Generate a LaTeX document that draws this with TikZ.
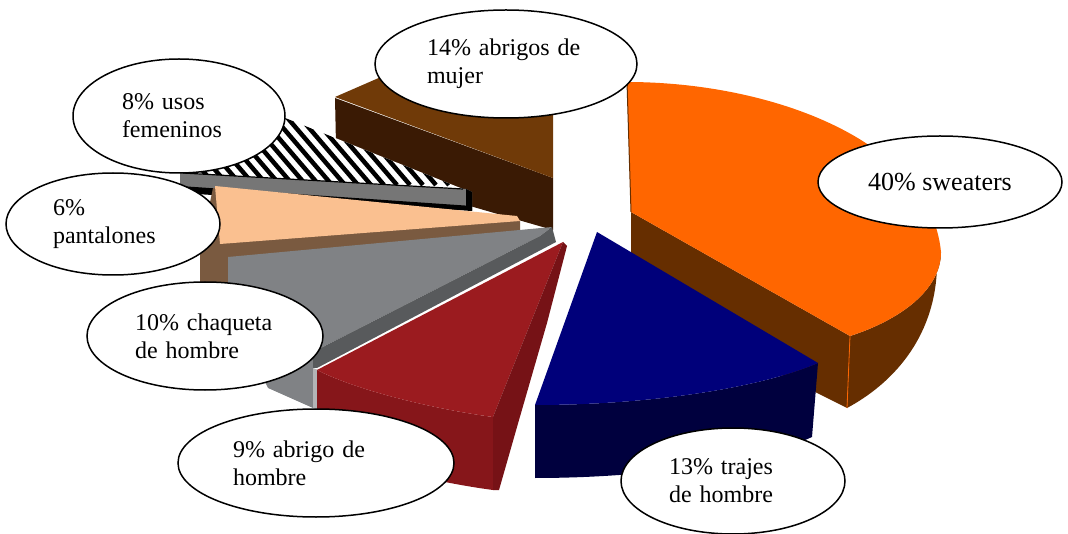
\documentclass[tikz,border=0pt]{standalone}
\usepackage{fontspec}
\setmainfont{Liberation Serif}
\usepackage{tikz}
\definecolor{orangetop}{RGB}{255,102,0}
\definecolor{orangeside}{RGB}{102,46,0}
\definecolor{navytop}{RGB}{0,0,122}
\definecolor{navyfront}{RGB}{0,0,62}
\definecolor{redtop}{RGB}{155,27,31}
\definecolor{redfront}{RGB}{134,22,26}
\definecolor{redside}{RGB}{118,18,22}
\definecolor{graytop}{RGB}{128,130,133}
\definecolor{grayside}{RGB}{88,90,92}
\definecolor{peach}{RGB}{250,192,144}
\definecolor{peachside}{RGB}{122,90,64}
\definecolor{bandgray}{RGB}{118,118,118}
\definecolor{browntop}{RGB}{112,58,8}
\definecolor{brownfront}{RGB}{58,26,4}
\usetikzlibrary{shapes}
\tikzset{lbl/.style={ellipse, draw, fill=white, line width=1.5pt, align=left, inner sep=0pt,
    font=\fontsize{24pt}{28pt}\selectfont}}

\begin{document}
\begin{tikzpicture}[x=1pt,y=-1pt]
        \useasboundingbox (0,0) rectangle (1068,534);
        % 14% abrigos de mujer
        \fill[brownfront] (335,98) -- (553,178) -- (553,230) -- (470,206) -- (337,192) -- cycle;
        \fill[browntop] (335,97) -- (420,60) -- (553,70) -- (553,178) -- cycle;
        % 8% usos femeninos
        \fill[bandgray] (180,172) -- (466,189) -- (472,192) -- (472,210) -- (180,188) -- cycle;
        \fill[black] (180,186) -- (472,206) -- (472,211) -- (180,193) -- cycle;
        \fill[black] (466,189) -- (472,192) -- (472,211) -- (466,209) -- cycle;
        \begin{scope}
            \clip (220,92) -- (463,189) -- (182,173) -- (180,130) -- cycle;
            \fill[white] (150,80) rectangle (480,200);
            \foreach \x in {60,73,...,480}
                \draw[line width=4.5pt] (\x,80) -- ++(90,105);
        \end{scope}
        \draw[line width=1.2pt] (183,173) -- (463,189);
        % 6% pantalones
        \fill[peachside] (213,188) -- (520,220) -- (520,231) -- (228,258) -- (228,283) -- (200,283) -- (200,250) -- cycle;
        \fill[peach] (215,186) -- (517,216) -- (520,221) -- (220,244) -- cycle;
        % 10% chaqueta de hombre
        \fill[graytop] (228,257) -- (552,227) -- (540,236) -- (313,352) -- (313,408) -- (268,388) -- (240,330) -- (228,290) -- cycle;
        \fill[grayside] (552,227) -- (556,242) -- (317,368) -- (313,368) -- (313,352) -- (540,236) -- cycle;
        \fill[graytop!60!white] (313,368) -- (318,370) -- (318,410) -- (313,408) -- cycle;
        % 9% abrigo de hombre
        \fill[redfront] (493,417) .. controls (440,410) and (360,392) .. (317,370) -- (317,443)
            .. controls (360,465) and (440,483) .. (493,490) -- cycle;
        \fill[redtop] (563,242) -- (493,417) .. controls (440,410) and (360,392) .. (317,370) -- cycle;
        \fill[redside] (563,242) -- (567,246) -- (547,323) -- (517,427) -- (499,490) -- (493,490) -- (493,417) -- cycle;
        % 40% sweaters
        \fill[orangeside] (631,212) -- (850,336) -- (847,408) -- (631,300) -- cycle;
        \fill[orangeside] (941,252) .. controls (941,290) and (900,320) .. (850,336) -- (847,408)
            .. controls (890,385) and (935,340) .. (937,267) -- cycle;
        \fill[orangetop] (627,82) .. controls (770,82) and (930,140) .. (941,252)
            .. controls (941,290) and (900,320) .. (850,336) -- (631,212) -- cycle;
        \draw[orangeside, line width=1pt] (627,82) -- (631,212);
        \draw[orangetop, line width=0.8pt] (850,336) -- (847,408);
        % 13% trajes de hombre
        \fill[navyfront] (818,363) .. controls (760,388) and (650,405) .. (535,405) -- (535,478)
            .. controls (650,478) and (760,461) .. (812,437) -- cycle;
        \fill[navytop] (597,232) -- (818,363) .. controls (760,388) and (650,405) .. (535,405) -- cycle;

        \node[lbl, minimum width=262pt, minimum height=108pt, text width=158pt] (mujer) at (506,64) {14\% abrigos de\\mujer};
        \node[lbl, minimum width=212pt, minimum height=114pt, text width=114pt] (usos) at (179,116) {8\% usos\\femeninos};
        \node[lbl, minimum width=214pt, minimum height=102pt, text width=120pt] (pantalones) at (113,224) {6\%\\pantalones};
        \node[lbl, minimum width=236pt, minimum height=108pt, text width=140pt] (chaqueta) at (205,336) {10\% chaqueta\\de hombre};
        \node[lbl, minimum width=276pt, minimum height=108pt, text width=166pt] (abrigo) at (316,463) {9\% abrigo de\\hombre};
        \node[lbl, minimum width=224pt, minimum height=106pt, text width=128pt] (trajes) at (733,481) {13\% trajes\\de hombre};
        \node[lbl, minimum width=244pt, minimum height=92pt, align=center, font=\fontsize{26pt}{28pt}\selectfont] (sweaters) at (940,182) {40\% sweaters};
    \end{tikzpicture}
\end{document}
